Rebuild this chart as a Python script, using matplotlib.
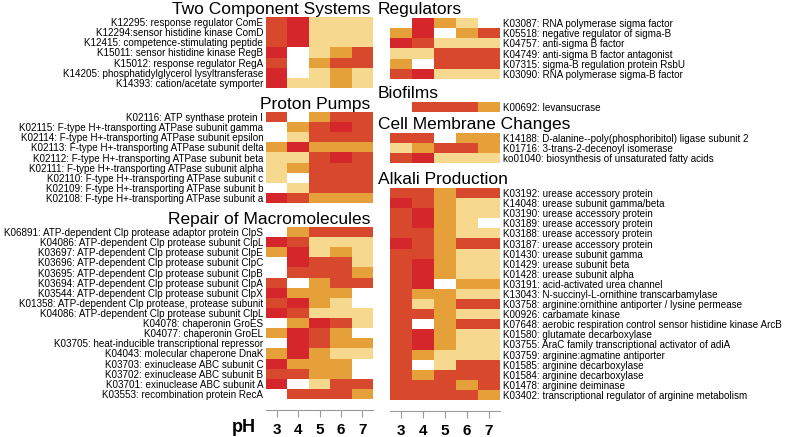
import matplotlib
matplotlib.use("Agg")
import matplotlib.pyplot as plt
from matplotlib.colors import ListedColormap, BoundaryNorm
import numpy as np

plt.rcParams['font.family'] = ['Liberation Sans', 'DejaVu Sans']

ph = ["3", "4", "5", "6", "7"]

# levels: 0 = missing (white), 1 = light, 2 = orange, 3 = red, 4 = crimson
two_comp_labels = [
    "K12295: response regulator ComE",
    "K12294:sensor histidine kinase ComD",
    "K12415: competence-stimulating peptide",
    "K15011: sensor histidine kinase RegB",
    "K15012: response regulator RegA",
    "K14205: phosphatidylglycerol lysyltransferase",
    "K14393: cation/acetate symporter",
]
two_comp = [
    [3, 4, 1, 1, 1],
    [3, 4, 1, 1, 1],
    [3, 4, 1, 1, 1],
    [4, 0, 1, 2, 3],
    [3, 0, 2, 3, 3],
    [4, 0, 1, 2, 1],
    [4, 1, 1, 2, 1],
]

proton_labels = [
    "K02116: ATP synthase protein I",
    "K02115: F-type H+-transporting ATPase subunit gamma",
    "K02114: F-type H+-transporting ATPase subunit epsilon",
    "K02113: F-type H+-transporting ATPase subunit delta",
    "K02112: F-type H+-transporting ATPase subunit beta",
    "K02111: F-type H+-transporting ATPase subunit alpha",
    "K02110: F-type H+-transporting ATPase subunit c",
    "K02109: F-type H+-transporting ATPase subunit b",
    "K02108: F-type H+-transporting ATPase subunit a",
]
proton = [
    [3, 0, 2, 3, 3],
    [0, 2, 3, 4, 3],
    [0, 1, 3, 3, 3],
    [2, 4, 2, 2, 2],
    [1, 1, 3, 4, 3],
    [1, 2, 3, 3, 3],
    [1, 0, 3, 3, 3],
    [0, 1, 3, 3, 3],
    [4, 3, 2, 2, 2],
]

repair_labels = [
    "K06891: ATP-dependent Clp protease adaptor protein ClpS",
    "K04086: ATP-dependent Clp protease subunit ClpL",
    "K03697: ATP-dependent Clp protease subunit ClpE",
    "K03696: ATP-dependent Clp protease subunit ClpC",
    "K03695: ATP-dependent Clp protease subunit ClpB",
    "K03694: ATP-dependent Clp protease subunit ClpA",
    "K03544: ATP-dependent Clp protease subunit ClpX",
    "K01358: ATP-dependent Clp protease, protease subunit",
    "K04086: ATP-dependent Clp protease subunit ClpL",
    "K04078: chaperonin GroES",
    "K04077: chaperonin GroEL",
    "K03705: heat-inducible transcriptional repressor",
    "K04043: molecular chaperone DnaK",
    "K03703: exinuclease ABC subunit C",
    "K03702: exinuclease ABC subunit B",
    "K03701: exinuclease ABC subunit A",
    "K03553: recombination protein RecA",
]
repair = [
    [0, 2, 3, 3, 3],
    [4, 3, 1, 1, 1],
    [2, 4, 1, 2, 1],
    [0, 4, 3, 3, 1],
    [0, 3, 3, 3, 2],
    [3, 0, 2, 3, 3],
    [4, 2, 2, 2, 0],
    [3, 4, 2, 1, 0],
    [4, 3, 1, 1, 1],
    [0, 2, 4, 3, 1],
    [2, 4, 3, 2, 0],
    [0, 4, 3, 2, 2],
    [2, 4, 2, 1, 1],
    [4, 2, 2, 2, 0],
    [3, 3, 2, 2, 0],
    [4, 0, 1, 3, 3],
    [0, 3, 3, 3, 2],
]

reg_labels = [
    "K03087: RNA polymerase sigma factor",
    "K05518: negative regulator of sigma-B",
    "K04757: anti-sigma B factor",
    "K04749: anti-sigma B factor antagonist",
    "K07315: sigma-B regulation protein RsbU",
    "K03090: RNA polymerase sigma-B factor",
]
reg = [
    [0, 4, 2, 1, 0],
    [2, 4, 0, 2, 3],
    [4, 3, 1, 1, 1],
    [1, 1, 3, 3, 3],
    [2, 0, 3, 3, 3],
    [3, 4, 1, 1, 1],
]

bio_labels = ["K00692: levansucrase"]
bio = [[0, 3, 3, 3, 2]]

memb_labels = [
    "K14188: D-alanine--poly(phosphoribitol) ligase subunit 2",
    "K01716: 3-trans-2-decenoyl isomerase",
    "ko01040: biosynthesis of unsaturated fatty acids",
]
memb = [
    [3, 3, 0, 2, 2],
    [1, 2, 3, 3, 2],
    [3, 4, 1, 1, 1],
]

alk_labels = [
    "K03192: urease accessory protein",
    "K14048: urease subunit gamma/beta",
    "K03190: urease accessory protein",
    "K03189: urease accessory protein",
    "K03188: urease accessory protein",
    "K03187: urease accessory protein",
    "K01430: urease subunit gamma",
    "K01429: urease subunit beta",
    "K01428: urease subunit alpha",
    "K03191: acid-activated urea channel",
    "K13043: N-succinyl-L-ornithine transcarbamylase",
    "K03758: arginine:ornithine antiporter / lysine permease",
    "K00926: carbamate kinase",
    "K07648: aerobic respiration control sensor histidine kinase ArcB",
    "K01580: glutamate decarboxylase",
    "K03755: AraC family transcriptional activator of adiA",
    "K03759: arginine:agmatine antiporter",
    "K01585: arginine decarboxylase",
    "K01584: arginine decarboxylase",
    "K01478: arginine deiminase",
    "K03402: transcriptional regulator of arginine metabolism",
]
alk = [
    [3, 3, 2, 3, 3],
    [4, 3, 2, 1, 1],
    [3, 4, 2, 1, 1],
    [3, 4, 2, 1, 0],
    [3, 3, 2, 1, 1],
    [4, 3, 2, 3, 3],
    [3, 3, 2, 1, 1],
    [3, 4, 2, 1, 1],
    [3, 4, 2, 1, 1],
    [3, 4, 0, 2, 2],
    [3, 2, 2, 1, 1],
    [3, 1, 2, 3, 3],
    [3, 3, 2, 1, 1],
    [3, 0, 2, 3, 3],
    [3, 4, 2, 1, 1],
    [3, 4, 2, 1, 1],
    [3, 2, 1, 1, 1],
    [3, 0, 1, 3, 3],
    [3, 2, 3, 3, 3],
    [3, 3, 3, 2, 3],
    [3, 3, 3, 3, 2],
]

cmap = ListedColormap(["#ffffff", "#f6d88e", "#e6a03a", "#d8482c", "#d5262c"])
norm = BoundaryNorm([-0.5, 0.5, 1.5, 2.5, 3.5, 4.5], cmap.N)

W, H = 787, 437
fig = plt.figure(figsize=(W / 100, H / 100), dpi=100)


def panel(x0, x1, y0, y1, data, labels, title, side):
    ax = fig.add_axes([x0 / W, 1 - y1 / H, (x1 - x0) / W, (y1 - y0) / H])
    ax.imshow(np.array(data), cmap=cmap, norm=norm, aspect='auto', interpolation='nearest')
    for s in ax.spines.values():
        s.set_visible(False)
    ax.set_xticks([])
    ax.set_yticks(range(len(labels)))
    ax.set_yticklabels(labels, fontsize=7.15)
    ax.tick_params(axis='y', length=0, pad=2)
    if side == 'right':
        ax.yaxis.tick_right()
        fig.text(378 / W, 1 - (y0 - 4) / H, title, fontsize=12.5, ha='left', va='baseline')
    else:
        fig.text(370 / W, 1 - (y0 - 3) / H, title, fontsize=12.5, ha='right', va='baseline')
    return ax


panel(266, 373, 17, 88, two_comp, two_comp_labels, "Two Component Systems", 'left')
panel(266, 373, 112, 203, proton, proton_labels, "Proton Pumps", 'left')
axl = panel(266, 373, 227, 399, repair, repair_labels, "Repair of Macromolecules", 'left')
panel(390, 500, 18, 79, reg, reg_labels, "Regulators", 'right')
panel(390, 500, 102, 112, bio, bio_labels, "Biofilms", 'right')
panel(390, 500, 133, 163, memb, memb_labels, "Cell Membrane Changes", 'right')
axr = panel(390, 500, 188, 400, alk, alk_labels, "Alkali Production", 'right')

for ax in (axl, axr):
    ax.spines['bottom'].set_visible(True)
    ax.spines['bottom'].set_position(('outward', 8))
    ax.spines['bottom'].set_color('#999999')
    ax.set_xticks(range(5))
    ax.set_xticklabels(ph, fontsize=11, fontweight='bold')
    ax.tick_params(axis='x', length=5, color='#999999', pad=4)

fig.text(244 / W, 1 - 428 / H, "pH", fontsize=13, fontweight='bold', ha='center', va='center')

fig.savefig("out.png", dpi=100)
